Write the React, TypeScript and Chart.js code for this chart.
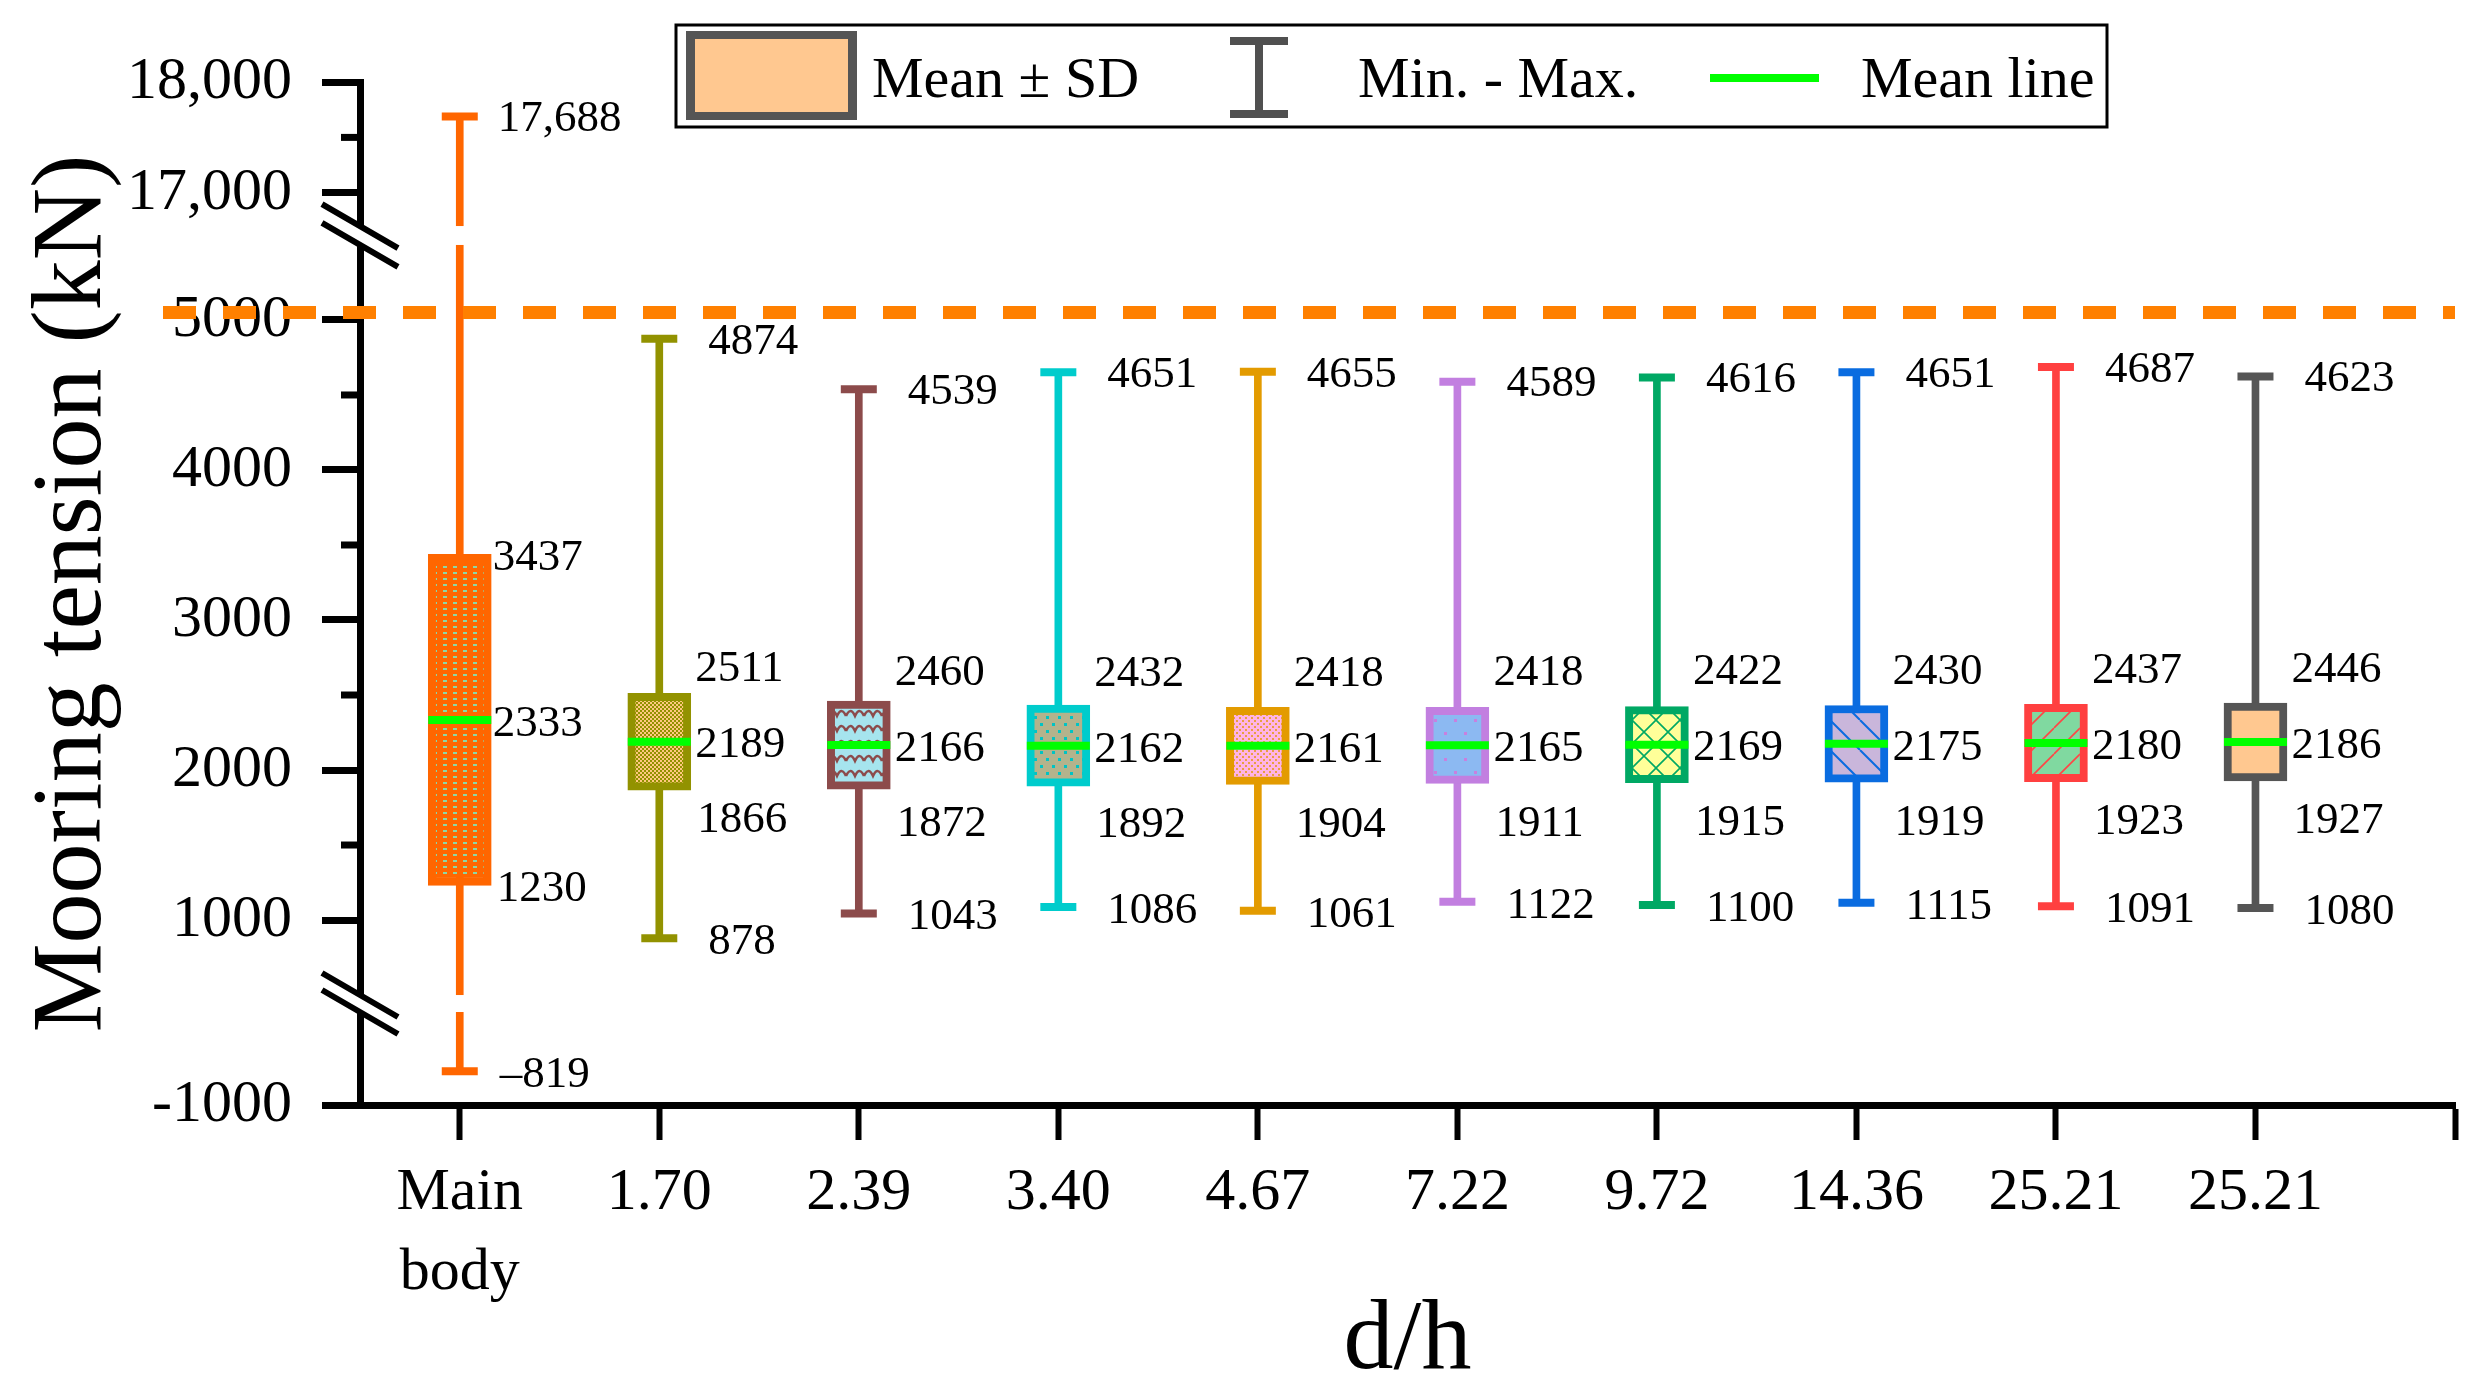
import { useEffect, useRef } from 'react';
import { Chart, LinearScale, registerables } from 'chart.js';

const SERIF = "'Liberation Serif', 'Times New Roman', Times, serif";

// ---- data ----
const categories: (string | string[])[] = [
  ['Main', 'body'], '1.70', '2.39', '3.40', '4.67', '7.22', '9.72', '14.36', '25.21', '25.21',
];
const maxValues = [17688, 4874, 4539, 4651, 4655, 4589, 4616, 4651, 4687, 4623];
const sdUpper = [3437, 2511, 2460, 2432, 2418, 2418, 2422, 2430, 2437, 2446];
const meanValues = [2333, 2189, 2166, 2162, 2161, 2165, 2169, 2175, 2180, 2186];
const sdLower = [1230, 1866, 1872, 1892, 1904, 1911, 1915, 1919, 1923, 1927];
const minValues = [-819, 878, 1043, 1086, 1061, 1122, 1100, 1115, 1091, 1080];

const yMajorTicks = [-1000, 1000, 2000, 3000, 4000, 5000, 17000, 18000];
const yMinorTicks = [1500, 2500, 3500, 4500, 17500];
const limitValue = 5050;

const boxColors = [
  '#FF6600', '#929200', '#8C4B4B', '#00CCCC', '#E39B00',
  '#C27FE0', '#00A864', '#0A6CE0', '#FF4040', '#555555',
];

// broken y axis: value ranges and where they sit along the axis (0 = bottom, 1 = top)
const ySegments = [
  { from: -1000, to: -500, start: 0, end: 0.0909 },
  { from: 500, to: 5500, start: 0.1075, end: 0.8407 },
  { from: 16700, to: 18000, start: 0.8592, end: 1 },
];

function valueToFraction(v: number): number {
  const last = ySegments.length - 1;
  for (let i = 0; i <= last; i++) {
    const s = ySegments[i];
    if (v <= s.to || i === last) {
      if (v >= s.from || i === 0) {
        return s.start + ((v - s.from) / (s.to - s.from)) * (s.end - s.start);
      }
      const p = ySegments[i - 1];
      return p.end + ((v - p.to) / (s.from - p.to)) * (s.start - p.end);
    }
  }
  return 1;
}

function fractionToValue(f: number): number {
  const last = ySegments.length - 1;
  for (let i = 0; i <= last; i++) {
    const s = ySegments[i];
    if (f <= s.end || i === last) {
      if (f >= s.start || i === 0) {
        return s.from + ((f - s.start) / (s.end - s.start)) * (s.to - s.from);
      }
      const p = ySegments[i - 1];
      return p.to + ((f - p.end) / (s.start - p.end)) * (s.from - p.to);
    }
  }
  return ySegments[last].to;
}

class BrokenScale extends LinearScale {
  static id = 'broken';
  getPixelForValue(value: number) {
    return this.bottom - valueToFraction(value) * (this.bottom - this.top);
  }
  getValueForPixel(pixel: number) {
    return fractionToValue((this.bottom - pixel) / (this.bottom - this.top));
  }
}

Chart.register(...registerables, BrokenScale);

function makePattern(bg: string, w: number, h: number, draw: (c: CanvasRenderingContext2D) => void) {
  const tile = document.createElement('canvas');
  tile.width = w;
  tile.height = h;
  const c = tile.getContext('2d');
  if (!c) return bg;
  c.fillStyle = bg;
  c.fillRect(0, 0, w, h);
  draw(c);
  return c.createPattern(tile, 'repeat') ?? bg;
}

function buildFills() {
  return [
    makePattern('#FF6600', 10, 6, (c) => {
      c.fillStyle = '#8ED6A4';
      c.fillRect(3, 2, 4, 2);
    }),
    makePattern('#929200', 4, 4, (c) => {
      c.fillStyle = '#FFC880';
      c.fillRect(0, 0, 2, 2);
      c.fillRect(2, 2, 2, 2);
    }),
    makePattern('#A6E4EE', 18, 15, (c) => {
      c.strokeStyle = '#8C4B4B';
      c.lineWidth = 2.5;
      c.beginPath();
      c.moveTo(0, 11);
      c.quadraticCurveTo(4.5, 1, 9, 11);
      c.quadraticCurveTo(13.5, 1, 18, 11);
      c.stroke();
    }),
    makePattern('#B3B38C', 12, 14, (c) => {
      c.fillStyle = '#00C4C4';
      c.fillRect(2, 2, 3, 3);
      c.fillRect(8, 9, 3, 3);
    }),
    makePattern('#FFB3E6', 6, 6, (c) => {
      c.fillStyle = '#E8A040';
      c.fillRect(0, 0, 2, 2);
      c.fillRect(3, 3, 2, 2);
    }),
    makePattern('#8CB9F2', 20, 26, (c) => {
      c.fillStyle = '#C880E0';
      c.fillRect(4, 4, 3, 3);
      c.fillRect(14, 17, 3, 3);
    }),
    makePattern('#FFFF99', 24, 24, (c) => {
      c.strokeStyle = '#00A864';
      c.lineWidth = 1.6;
      c.beginPath();
      c.moveTo(0, 0);
      c.lineTo(24, 24);
      c.moveTo(24, 0);
      c.lineTo(0, 24);
      c.stroke();
    }),
    makePattern('#C9B6DB', 30, 30, (c) => {
      c.strokeStyle = '#0A6CE0';
      c.lineWidth = 2;
      c.beginPath();
      [-30, 0, 30].forEach((o) => {
        c.moveTo(o, 0);
        c.lineTo(o + 30, 30);
      });
      c.stroke();
    }),
    makePattern('#80D9A0', 26, 26, (c) => {
      c.strokeStyle = '#FF4545';
      c.lineWidth = 1.6;
      c.beginPath();
      [-26, 0, 26].forEach((o) => {
        c.moveTo(o, 26);
        c.lineTo(o + 26, 0);
      });
      c.stroke();
    }),
    '#FFC890',
  ];
}

const fmt = (v: number) => {
  if (v < 0) return '\u2013' + Math.abs(v);
  return Math.abs(v) >= 10000 ? v.toLocaleString('en-US') : String(v);
};

function makeOverlay(legendFill: any) {
  return {
    id: 'overlay',
    afterDraw(chart: any) {
      const { ctx, chartArea } = chart;
      const xs = chart.scales.x;
      const ys = chart.scales.y;
      const axisX = chartArea.left;
      ctx.save();

      // axis breaks: white gap through plot and axis, then the two slashes
      for (let i = 1; i < ySegments.length; i++) {
        const yTop = ys.getPixelForValue(ySegments[i].from);
        const yBot = ys.getPixelForValue(ySegments[i - 1].to);
        const dx = 38;
        const dy = 22;
        ctx.fillStyle = '#fff';
        ctx.fillRect(axisX, yTop, chartArea.right - axisX, yBot - yTop);
        ctx.beginPath();
        ctx.moveTo(axisX - dx, yTop - dy);
        ctx.lineTo(axisX + dx, yTop + dy);
        ctx.lineTo(axisX + dx, yBot + dy);
        ctx.lineTo(axisX - dx, yBot - dy);
        ctx.closePath();
        ctx.fill();
        ctx.strokeStyle = '#000';
        ctx.lineWidth = 6;
        ctx.beginPath();
        ctx.moveTo(axisX - dx, yTop - dy);
        ctx.lineTo(axisX + dx, yTop + dy);
        ctx.moveTo(axisX - dx, yBot - dy);
        ctx.lineTo(axisX + dx, yBot + dy);
        ctx.stroke();
      }

      // minor ticks
      ctx.strokeStyle = '#000';
      ctx.lineWidth = 7;
      yMinorTicks.forEach((v) => {
        const p = ys.getPixelForValue(v);
        ctx.beginPath();
        ctx.moveTo(axisX - 19, p);
        ctx.lineTo(axisX, p);
        ctx.stroke();
      });

      // value labels
      ctx.fillStyle = '#000';
      ctx.font = `45px ${SERIF}`;
      ctx.textAlign = 'left';
      ctx.textBaseline = 'middle';
      categories.forEach((_, i) => {
        const cx = xs.getPixelForValue(i);
        const pm = ys.getPixelForValue(meanValues[i]);
        if (i === 0) {
          ctx.fillText(fmt(maxValues[i]), cx + 38, ys.getPixelForValue(maxValues[i]) + 3);
          ctx.fillText(fmt(sdUpper[i]), cx + 33, ys.getPixelForValue(sdUpper[i]) + 4);
          ctx.fillText(fmt(meanValues[i]), cx + 33, pm + 4);
          ctx.fillText(fmt(sdLower[i]), cx + 37, ys.getPixelForValue(sdLower[i]) + 4);
          ctx.fillText(fmt(minValues[i]), cx + 40, ys.getPixelForValue(minValues[i]) + 4);
        } else {
          ctx.fillText(fmt(maxValues[i]), cx + 49, ys.getPixelForValue(maxValues[i]) + 3);
          ctx.fillText(fmt(sdUpper[i]), cx + 36, pm - 72);
          ctx.fillText(fmt(meanValues[i]), cx + 36, pm + 4);
          ctx.fillText(fmt(sdLower[i]), cx + 38, pm + 79);
          ctx.fillText(fmt(minValues[i]), cx + 49, ys.getPixelForValue(minValues[i]) + 4);
        }
      });

      // dashed limit line
      const py = ys.getPixelForValue(limitValue);
      ctx.strokeStyle = '#FF8000';
      ctx.lineWidth = 13;
      ctx.setLineDash([33, 27]);
      ctx.beginPath();
      ctx.moveTo(163, py);
      ctx.lineTo(chartArea.right, py);
      ctx.stroke();
      ctx.setLineDash([]);

      // legend
      ctx.strokeStyle = '#000';
      ctx.lineWidth = 3;
      ctx.strokeRect(676, 25, 1431, 102);
      ctx.fillStyle = boxColors[9];
      ctx.fillRect(686, 31, 171, 89);
      ctx.fillStyle = legendFill;
      ctx.fillRect(695, 39, 153, 73);
      ctx.fillStyle = '#505050';
      ctx.fillRect(1255, 40, 8, 74);
      ctx.fillRect(1230, 37, 58, 8);
      ctx.fillRect(1230, 110, 58, 8);
      ctx.fillStyle = '#00FF00';
      ctx.fillRect(1710, 74, 109, 8);
      ctx.fillStyle = '#000';
      ctx.font = `58px ${SERIF}`;
      ctx.fillText('Mean \u00B1 SD', 872, 82);
      ctx.fillText('Min. - Max.', 1358, 82);
      ctx.fillText('Mean line', 1861, 82);

      ctx.restore();
    },
  };
}

export default function App() {
  const canvasRef = useRef<HTMLCanvasElement | null>(null);

  useEffect(() => {
    document.body.style.margin = '0';
    const canvas = canvasRef.current;
    if (!canvas) return;

    Chart.defaults.font.family = SERIF;
    Chart.defaults.color = '#000';

    const fills = buildFills();
    const xTicks = Array.from({ length: categories.length + 1 }, (_, i) => i);

    const chart = new Chart(canvas, {
      type: 'bar',
      data: {
        datasets: [
          {
            type: 'bar',
            label: 'Min. - Max.',
            data: categories.map((_, i) => ({ x: i, y: [minValues[i], maxValues[i]] })),
            backgroundColor: boxColors,
            borderWidth: 0,
            barThickness: 7,
            grouped: false,
            order: 3,
          },
          {
            type: 'bar',
            label: 'Mean \u00B1 SD',
            data: categories.map((_, i) => ({ x: i, y: [sdLower[i], sdUpper[i]] })),
            backgroundColor: fills,
            borderColor: boxColors,
            borderWidth: 8,
            borderSkipped: false,
            barThickness: 63,
            grouped: false,
            order: 2,
          },
          {
            type: 'scatter',
            label: 'Max',
            data: maxValues.map((v, i) => ({ x: i, y: v })),
            pointStyle: 'line',
            pointRadius: 18,
            pointBorderWidth: 8,
            pointBorderColor: boxColors,
            order: 1,
          },
          {
            type: 'scatter',
            label: 'Min',
            data: minValues.map((v, i) => ({ x: i, y: v })),
            pointStyle: 'line',
            pointRadius: 18,
            pointBorderWidth: 8,
            pointBorderColor: boxColors,
            order: 1,
          },
          {
            type: 'scatter',
            label: 'Mean line',
            data: meanValues.map((v, i) => ({ x: i, y: v })),
            pointStyle: 'line',
            pointRadius: 31.5,
            pointBorderWidth: 8,
            pointBorderColor: '#00FF00',
            order: 0,
          },
        ],
      } as any,
      options: {
        responsive: true,
        maintainAspectRatio: false,
        animation: false,
        events: [],
        layout: { autoPadding: false, padding: { top: 82, right: 17, left: 0, bottom: 0 } },
        plugins: {
          legend: { display: false },
          tooltip: { enabled: false },
        },
        scales: {
          x: {
            type: 'linear',
            offset: false,
            min: -0.5,
            max: categories.length,
            afterBuildTicks: (scale: any) => {
              scale.ticks = xTicks.map((v) => ({ value: v }));
            },
            afterFit: (scale: any) => {
              scale.height = 293;
              scale.paddingLeft = 0;
              scale.paddingRight = 0;
            },
            ticks: {
              autoSkip: false,
              maxRotation: 0,
              minRotation: 0,
              padding: 13,
              font: { size: 60, lineHeight: 1.333 },
              callback: (v: any) => categories[v] ?? '',
            },
            grid: { offset: false, drawOnChartArea: false, tickLength: 35, tickWidth: 6, tickColor: '#000' },
            border: { display: true, width: 7, color: '#000' },
            title: {
              display: true,
              text: 'd/h',
              font: { size: 100, lineHeight: 1 },
              padding: { top: 0, bottom: 6 },
            },
          },
          y: {
            type: 'broken' as any,
            min: -1000,
            max: 18000,
            afterBuildTicks: (scale: any) => {
              scale.ticks = yMajorTicks.map((v) => ({ value: v }));
            },
            afterFit: (scale: any) => {
              scale.width = 360;
              scale.paddingTop = 0;
              scale.paddingBottom = 0;
            },
            ticks: {
              autoSkip: false,
              padding: 30,
              font: { size: 60 },
              callback: (v: any) => fmt(Number(v)).replace('\u2013', '-'),
            },
            grid: { drawOnChartArea: false, tickLength: 38, tickWidth: 7, tickColor: '#000' },
            border: { display: true, width: 7, color: '#000' },
            title: {
              display: true,
              text: 'Mooring tension (kN)',
              font: { size: 100, lineHeight: 1.2 },
              padding: { top: 14, bottom: 0 },
            },
          },
        } as any,
      },
      plugins: [makeOverlay(fills[9])],
    });

    return () => chart.destroy();
  }, []);

  return (
    <div style={{ position: 'absolute', left: 0, top: 0, width: 2472, height: 1398, background: '#fff' }}>
      <canvas ref={canvasRef} />
    </div>
  );
}
